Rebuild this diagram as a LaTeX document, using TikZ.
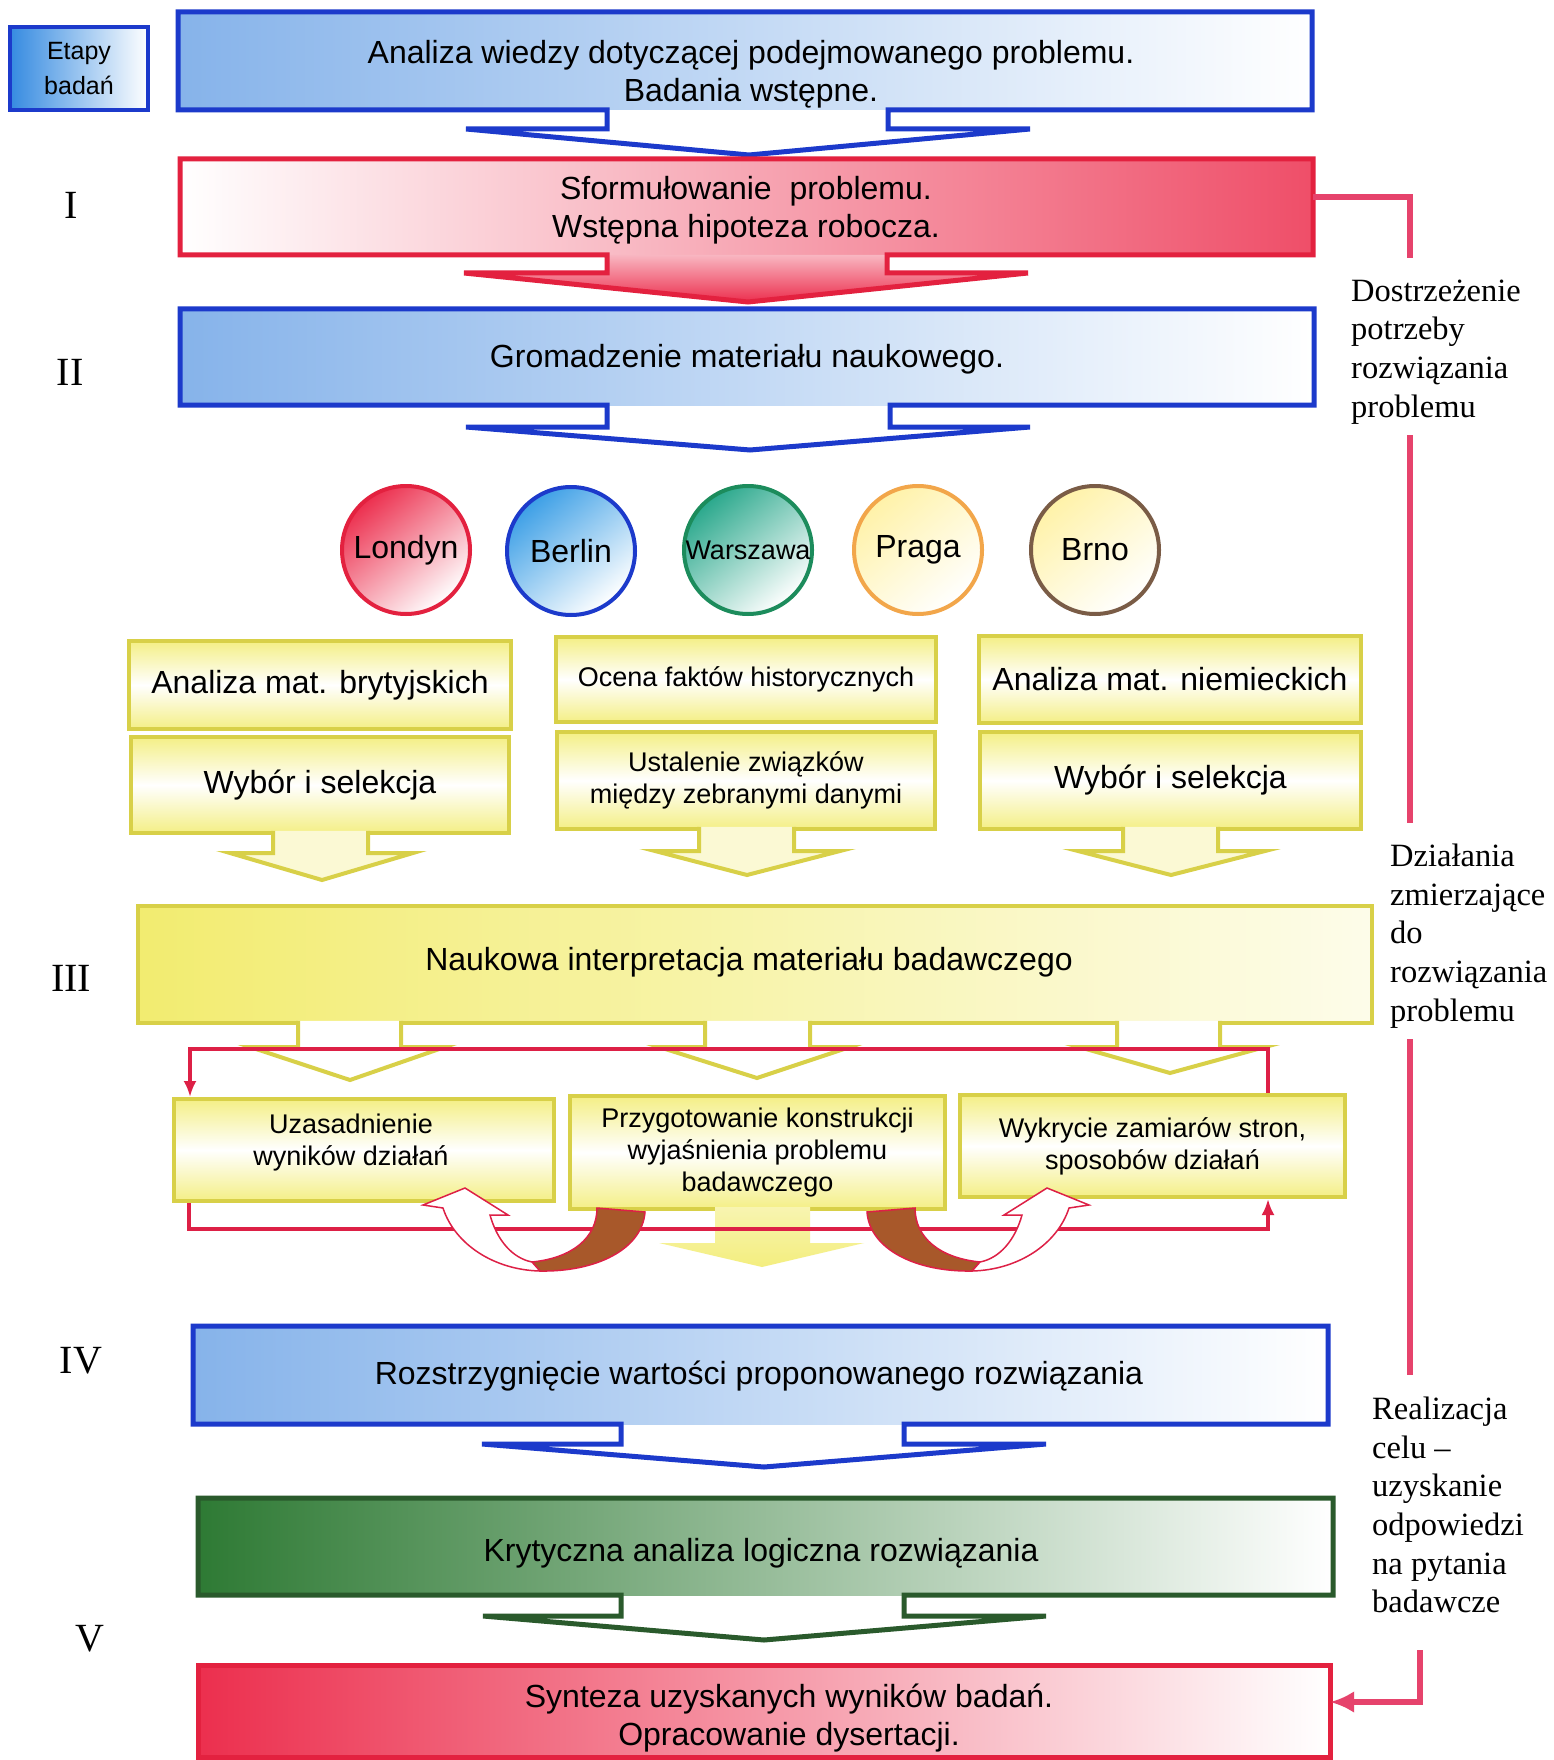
\documentclass[tikz,border=0pt]{standalone}
\usepackage{fontspec}
\setmainfont{Liberation Sans}
\newfontfamily\tnr{Liberation Serif}
\usetikzlibrary{arrows.meta}
\definecolor{bluebd}{HTML}{1C3ACB}
\definecolor{bluefill}{HTML}{86B3EA}
\definecolor{redbd}{HTML}{E3213F}
\definecolor{redfill}{HTML}{EC2F4E}
\definecolor{ylwbd}{HTML}{D8D048}
\definecolor{ylwfill}{HTML}{F2EC70}
\definecolor{grnbd}{HTML}{2A5A2C}
\definecolor{grnfill}{HTML}{2E7A34}
\definecolor{pinkln}{HTML}{E6436C}
\definecolor{brownar}{HTML}{A8582A}
\definecolor{loopred}{HTML}{DD2046}
\definecolor{tealbd}{HTML}{1C8C5C}
\definecolor{tealfill}{HTML}{2AA88C}
\definecolor{orgbd}{HTML}{F2A64A}
\definecolor{palefill}{HTML}{FFF2A8}
\definecolor{brnbd}{HTML}{7A5C46}
\definecolor{cyanfill}{HTML}{3C9FE6}
\newcommand\fA{\fontsize{32}{38}\selectfont}
\newcommand\fB{\fontsize{27}{32}\selectfont}
\newcommand\fC{\fontsize{25}{35}\selectfont}
\newcommand\fS{\tnr\fontsize{32.5}{38.7}\selectfont}
\newcommand\fR{\tnr\fontsize{40}{48}\selectfont}
\tikzset{
  lbl/.style={inner sep=0pt, align=center, font=\fA},
  slbl/.style={inner sep=0pt, align=center, font=\fB},
  side/.style={inner sep=0pt, align=left, anchor=west, font=\fS},
  roman/.style={inner sep=0pt, font=\fR},
  ghost/.style={inner sep=0pt},
  ybox/.style={draw=ylwbd, line width=4pt, top color=ylwfill!85, bottom color=ylwfill!85, middle color=white, inner sep=0pt, align=center},
  city/.style={circle, line width=4pt, minimum size=128pt, inner sep=0pt, font=\fA},
  blueln/.style={draw=bluebd, line width=5pt, line join=miter},
  redln/.style={draw=redbd, line width=5pt, line join=miter},
  grnln/.style={draw=grnbd, line width=5pt, line join=miter},
  ylwln/.style={draw=ylwbd, line width=4pt, line join=miter},
  loopln/.style={draw=loopred, line width=4pt, line join=miter},
  sideln/.style={draw=pinkln, line width=6pt, line join=miter},
}
% outline arrow below a yellow box: #1 shaft left, #2 shaft right, #3 box bottom, #4 head top, #5 head left, #6 head right, #7 tip x, #8 tip y, #9 fill colour
\newcommand\yarrow[9]{%
  \fill[#9] (#1,#3-2.2) -- (#1,#4) -- (#5,#4) -- (#7,#8) -- (#6,#4) -- (#2,#4) -- (#2,#3-2.2) -- cycle;
  \draw[ylwln] (#1,#3-2.2) -- (#1,#4) -- (#5,#4) -- (#7,#8) -- (#6,#4) -- (#2,#4) -- (#2,#3-2.2);}
\newcommand\uarrow{%
  \filldraw[fill=brownar, draw=loopred, line width=1.5pt] (597,1208) -- (645,1212) .. controls (642,1250) and (595,1272) .. (540,1271) -- (532,1262) .. controls (572,1258) and (597,1238) .. (597,1208) -- cycle;
  \filldraw[fill=white, draw=loopred, line width=1.5pt] (540,1271) .. controls (495,1270) and (455,1245) .. (443,1208) -- (423,1205) -- (465,1188) -- (508,1215) -- (490,1215) .. controls (497,1240) and (512,1258) .. (532,1262) -- cycle;}
\begin{document}
\begin{tikzpicture}[x=1pt, y=-1pt]
\useasboundingbox (0,0) rectangle (1554,1760);
\fill[white] (0,0) rectangle (1554,1760);

% stage numerals
\node[roman] (rI) at (71,205) {I};
\node[roman] (rII) at (70,372) {II};
\node[roman] (rIII) at (71,978) {III};
\node[roman] (rIV) at (81,1361) {IV};
\node[roman] (rV) at (90,1639) {V};

% Etapy badan
\node[draw=bluebd, line width=4pt, left color=cyanfill!80!bluebd, right color=white, minimum width=138pt, minimum height=83pt, inner sep=0pt, align=center, font=\fC] (etapy) at (79,68.5) {Etapy\\badań};

% Box 1
\node[ghost, minimum width=1134pt, minimum height=98pt] (b1) at (745,61) {};
\shade[left color=bluefill, middle color=bluefill!45, right color=white] (178,12) rectangle (1312,110);
\draw[blueln] (178,12) -- (1312,12) -- (1312,110) -- (888,110) -- (888,129) -- (1030,129) -- (749,155) -- (466,129) -- (607,129) -- (607,110) -- (178,110) -- cycle;
\node[lbl] (t1) at (751,74) {Analiza wiedzy dotyczącej podejmowanego problemu.\\Badania wstępne.};

% Box 2
\node[ghost, minimum width=1133pt, minimum height=96pt] (b2) at (746.5,207) {};
\shade[left color=white, middle color=white, right color=redfill!85] (180,159) rectangle (1313,255);
\shade[top color=redfill!35, bottom color=redfill] (607,255) -- (607,273) -- (464,273) -- (748,302) -- (1028,273) -- (887,273) -- (887,255) -- cycle;
\draw[redln] (180,159) -- (1313,159) -- (1313,255) -- (887,255) -- (887,273) -- (1028,273) -- (748,302) -- (464,273) -- (607,273) -- (607,255) -- (180,255) -- cycle;
\node[lbl] (t2) at (746,210) {Sformułowanie\ \ problemu.\\Wstępna hipoteza robocza.};

% Box 3
\node[ghost, minimum width=1134pt, minimum height=96pt] (b3) at (747,357) {};
\shade[left color=bluefill, middle color=bluefill!45, right color=white] (180,309) rectangle (1314,405);
\draw[blueln] (180,309) -- (1314,309) -- (1314,405) -- (890,405) -- (890,427) -- (1030,427) -- (750,450) -- (466,427) -- (607,427) -- (607,405) -- (180,405) -- cycle;
\node[lbl] (t3) at (747,359) {Gromadzenie materiału naukowego.};

% Cities
\node[city, draw=redbd, top color=redfill, bottom color=white, shading angle=40] (londyn) at (406,550) {Londyn};
\node[city, draw=bluebd, top color=cyanfill, bottom color=white, shading angle=40] (berlin) at (571,551) {Berlin};
\node[city, draw=tealbd, top color=tealfill, bottom color=white, shading angle=40, font=\fB] (warszawa) at (748,550) {Warszawa};
\node[city, draw=orgbd, top color=palefill, bottom color=white, shading angle=40] (praga) at (918,550) {Praga};
\node[city, draw=brnbd, top color=palefill, bottom color=white, shading angle=40] (brno) at (1095,550) {Brno};

% Yellow columns
\node[ybox, minimum width=382pt, minimum height=88pt, font=\fA] (ya1) at (320,685) {Analiza mat. brytyjskich};
\node[ybox, minimum width=378pt, minimum height=96pt, font=\fA] (ya2) at (320,785) {Wybór i selekcja};
\node[ybox, minimum width=380pt, minimum height=85pt, font=\fB] (yb1) at (746,679.5) {Ocena faktów historycznych};
\node[ybox, minimum width=378pt, minimum height=97pt, font=\fB] (yb2) at (746,780.5) {Ustalenie związków\\między zebranymi danymi};
\node[ybox, minimum width=382pt, minimum height=87pt, font=\fA] (yc1) at (1170,679.5) {Analiza mat. niemieckich};
\node[ybox, minimum width=381pt, minimum height=97pt, font=\fA] (yc2) at (1170.5,780.5) {Wybór i selekcja};
\yarrow{273}{368}{833}{853}{230}{413}{322}{880}{ylwfill!30}
\yarrow{699}{794}{829}{851}{655}{840}{747}{875}{ylwfill!30}
\yarrow{1123}{1218}{829}{851}{1078}{1265}{1171}{875}{ylwfill!30}

% Interpretation box
\node[ybox, left color=ylwfill, right color=ylwfill!15, minimum width=1234pt, minimum height=117pt, font=\fA] (nauk) at (755,964.5) {};
\node[lbl] (tnauk) at (749,962) {Naukowa interpretacja materiału badawczego};
\yarrow{298}{401}{1023}{1047}{250}{445}{350}{1080}{white}
\yarrow{705}{810}{1023}{1047}{659}{850}{757}{1078}{white}
\yarrow{1117}{1220}{1023}{1047}{1079}{1265}{1170}{1073}{white}

% Lower yellow boxes
\node[ybox, minimum width=380pt, minimum height=102pt] (yd) at (364,1150) {};
\node[slbl] (tyd) at (351,1143) {Uzasadnienie\\wyników działań};
\node[ybox, minimum width=375pt, minimum height=113pt, font=\fB] (ye) at (757.5,1152.5) {Przygotowanie konstrukcji\\wyjaśnienia problemu\\badawczego};
\node[ybox, minimum width=385pt, minimum height=102pt, font=\fB] (yf) at (1152.5,1146) {Wykrycie zamiarów stron,\\sposobów działań};
\shade[top color=ylwfill!55, bottom color=ylwfill!90] (715,1207) -- (715,1243) -- (659,1243) -- (762,1267) -- (864,1243) -- (810,1243) -- (810,1207) -- cycle;

% Red loop
\coordinate (lt) at (190,1049);
\coordinate (rt) at (1268,1049);
\coordinate (lb) at (189,1229);
\coordinate (rb) at (1268,1229);
\draw[loopln, -{Latex[length=16pt, width=13pt]}] (yf.north -| rt) -- (rt) -- (lt) -- (yd.north -| lt);
\draw[loopln, -{Latex[length=16pt, width=13pt]}] (yd.south -| lb) -- (lb) -- (rb) -- (yf.south -| rb);

% Curved arrows
\uarrow
\begin{scope}[xshift=1512pt, xscale=-1]
\uarrow
\end{scope}

% Box 4
\node[ghost, minimum width=1135pt, minimum height=98pt] (b4) at (760.5,1375) {};
\shade[left color=bluefill, middle color=bluefill!45, right color=white] (193,1326) rectangle (1328,1424);
\draw[blueln] (193,1326) -- (1328,1326) -- (1328,1424) -- (904,1424) -- (904,1444) -- (1046,1444) -- (764,1467) -- (482,1444) -- (621,1444) -- (621,1424) -- (193,1424) -- cycle;
\node[lbl] (t4) at (759,1376) {Rozstrzygnięcie wartości proponowanego rozwiązania};

% Box 5
\node[ghost, minimum width=1135pt, minimum height=97pt] (b5) at (765.5,1546.5) {};
\shade[left color=grnfill, middle color=grnfill!35, right color=white] (198,1498) rectangle (1333,1595);
\draw[grnln] (198,1498) -- (1333,1498) -- (1333,1595) -- (904,1595) -- (904,1616) -- (1046,1616) -- (764,1640) -- (483,1616) -- (621,1616) -- (621,1595) -- (198,1595) -- cycle;
\node[lbl] (t5) at (761,1553) {Krytyczna analiza logiczna rozwiązania};

% Box 6
\node[ghost, minimum width=1132pt, minimum height=92pt] (b6) at (764,1711) {};
\shade[left color=redfill, middle color=redfill!30, right color=white] (198,1665) rectangle (1330,1757);
\draw[redln] (198,1665) rectangle (1330,1757);
\node[lbl] (t6) at (789,1718) {Synteza uzyskanych wyników badań.\\Opracowanie dysertacji.};

% Right side connectors and texts
\coordinate (c1) at (1410,197);
\coordinate (c2) at (1410,258);
\coordinate (c3) at (1410,435);
\coordinate (c4) at (1410,823);
\coordinate (c5) at (1410,1039);
\coordinate (c6) at (1410,1375);
\coordinate (c7) at (1420,1650);
\coordinate (c8) at (1420,1702);
\draw[sideln] (b2.east |- c1) -- (c1) -- (c2);
\draw[sideln] (c3) -- (c4);
\draw[sideln] (c5) -- (c6);
\draw[sideln, -{Latex[length=24pt, width=22pt]}] (c7) -- (c8) -- (b6.east |- c8);
\node[side] (s1) at (1351,352) {Dostrzeżenie\\potrzeby\\rozwiązania\\problemu};
\node[side] (s2) at (1390,936) {Działania\\zmierzające\\do\\rozwiązania\\problemu};
\node[side] (s3) at (1372,1505) {Realizacja\\celu –\\uzyskanie\\odpowiedzi\\na pytania\\badawcze};
\end{tikzpicture}
\end{document}
